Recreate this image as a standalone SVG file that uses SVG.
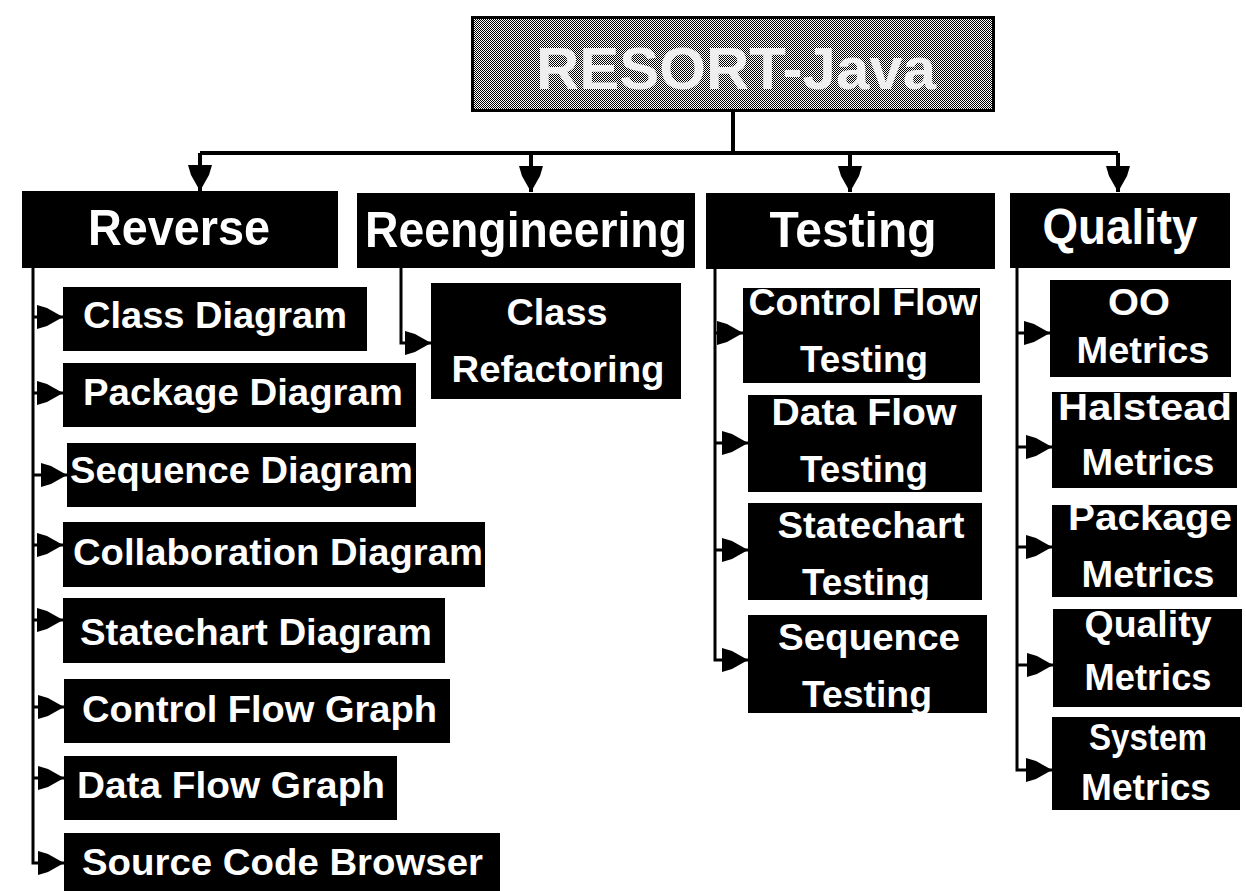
<svg xmlns="http://www.w3.org/2000/svg" width="1246" height="891" viewBox="0 0 1246 891">
<style>
.box{fill:#000}
.hdr{font-family:"Liberation Sans",Arial,sans-serif;font-weight:bold;font-size:50px;fill:#fff}
.lbl{font-family:"Liberation Sans",Arial,sans-serif;font-weight:bold;font-size:36px;fill:#fff}
.mid{text-anchor:middle}
.ln{fill:none;stroke:#000;stroke-width:3}
.bus{fill:none;stroke:#000;stroke-width:4}
</style>
<defs>
<pattern id="dither" width="2" height="2" patternUnits="userSpaceOnUse">
<rect width="2" height="2" fill="#fff"/>
<rect width="1" height="1" fill="#000"/>
<rect x="1" y="1" width="1" height="1" fill="#000"/>
</pattern>
<marker id="arr" markerUnits="userSpaceOnUse" markerWidth="26" markerHeight="24" viewBox="0 0 26 24" refX="26" refY="12" orient="auto">
<path d="M0 0 L10 3 L26 12 L10 21 L0 24 Z" fill="#000"/>
</marker>
</defs>
<rect width="1246" height="891" fill="#fff"/>

<g id="connectors">
<path class="bus" d="M733 111 V153"/>
<path class="bus" d="M200 153 H1118"/>
<path class="bus" d="M200 153 V191" marker-end="url(#arr)"/>
<path class="bus" d="M531 153 V192" marker-end="url(#arr)"/>
<path class="bus" d="M850 153 V192" marker-end="url(#arr)"/>
<path class="bus" d="M1118 153 V192" marker-end="url(#arr)"/>

<path class="ln" d="M33 268 V863 H64" marker-end="url(#arr)"/>
<path class="ln" d="M33 317 H63" marker-end="url(#arr)"/>
<path class="ln" d="M33 393 H63" marker-end="url(#arr)"/>
<path class="ln" d="M33 475 H67" marker-end="url(#arr)"/>
<path class="ln" d="M33 545 H63" marker-end="url(#arr)"/>
<path class="ln" d="M33 620 H63" marker-end="url(#arr)"/>
<path class="ln" d="M33 707 H64" marker-end="url(#arr)"/>
<path class="ln" d="M33 778 H64" marker-end="url(#arr)"/>

<path class="ln" d="M401 268 V343 H431" marker-end="url(#arr)"/>

<path class="ln" d="M715 269 V660 H748" marker-end="url(#arr)"/>
<path class="ln" d="M715 333 H743" marker-end="url(#arr)"/>
<path class="ln" d="M715 443 H748" marker-end="url(#arr)"/>
<path class="ln" d="M715 550 H748" marker-end="url(#arr)"/>

<path class="ln" d="M1017 268 V770 H1052" marker-end="url(#arr)"/>
<path class="ln" d="M1017 333 H1050" marker-end="url(#arr)"/>
<path class="ln" d="M1017 447 H1052" marker-end="url(#arr)"/>
<path class="ln" d="M1017 547 H1052" marker-end="url(#arr)"/>
<path class="ln" d="M1017 665 H1053" marker-end="url(#arr)"/>
</g>

<g id="root">
<rect x="472.5" y="17.5" width="521" height="93" fill="url(#dither)" stroke="#000" stroke-width="3"/>
<text x="736" y="89" class="mid" font-family="'Liberation Sans',Arial,sans-serif" font-weight="bold" font-size="60" fill="#eeeeee">RESORT-Java</text>
</g>

<g id="reverse">
<rect class="box" x="22" y="191" width="316" height="77"/>
<text class="hdr mid" x="179" y="245" textLength="182" lengthAdjust="spacingAndGlyphs">Reverse</text>
</g>
<g id="reengineering">
<rect class="box" x="357" y="193" width="338" height="75"/>
<text class="hdr mid" x="526" y="247" textLength="322" lengthAdjust="spacingAndGlyphs">Reengineering</text>
</g>
<g id="testing">
<rect class="box" x="706" y="193" width="289" height="76"/>
<text class="hdr mid" x="853" y="247" textLength="167" lengthAdjust="spacingAndGlyphs">Testing</text>
</g>
<g id="quality">
<rect class="box" x="1010" y="193" width="220" height="75"/>
<text class="hdr mid" x="1120" y="244" textLength="155" lengthAdjust="spacingAndGlyphs">Quality</text>
</g>

<g id="class-diagram">
<rect class="box" x="63" y="287" width="304" height="64"/>
<text class="lbl" x="83" y="328" textLength="264" lengthAdjust="spacingAndGlyphs">Class Diagram</text>
</g>
<g id="package-diagram">
<rect class="box" x="63" y="363" width="353" height="64"/>
<text class="lbl" x="83" y="405" textLength="320" lengthAdjust="spacingAndGlyphs">Package Diagram</text>
</g>
<g id="sequence-diagram">
<rect class="box" x="67" y="443" width="349" height="64"/>
<text class="lbl" x="70" y="483" textLength="343" lengthAdjust="spacingAndGlyphs">Sequence Diagram</text>
</g>
<g id="collaboration-diagram">
<rect class="box" x="63" y="522" width="422" height="65"/>
<text class="lbl" x="73" y="565" textLength="410" lengthAdjust="spacingAndGlyphs">Collaboration Diagram</text>
</g>
<g id="statechart-diagram">
<rect class="box" x="63" y="598" width="382" height="65"/>
<text class="lbl" x="80" y="645" textLength="352" lengthAdjust="spacingAndGlyphs">Statechart Diagram</text>
</g>
<g id="control-flow-graph">
<rect class="box" x="64" y="679" width="386" height="64"/>
<text class="lbl" x="82" y="722" textLength="355" lengthAdjust="spacingAndGlyphs">Control Flow Graph</text>
</g>
<g id="data-flow-graph">
<rect class="box" x="64" y="756" width="333" height="64"/>
<text class="lbl" x="77" y="798" textLength="308" lengthAdjust="spacingAndGlyphs">Data Flow Graph</text>
</g>
<g id="source-code-browser">
<rect class="box" x="64" y="833" width="436" height="58"/>
<text class="lbl" x="82" y="875" textLength="401" lengthAdjust="spacingAndGlyphs">Source Code Browser</text>
</g>

<g id="class-refactoring">
<rect class="box" x="431" y="283" width="250" height="116"/>
<text class="lbl mid" x="557" y="325" textLength="101" lengthAdjust="spacingAndGlyphs">Class</text>
<text class="lbl mid" x="558" y="382" textLength="213" lengthAdjust="spacingAndGlyphs">Refactoring</text>
</g>

<g id="control-flow-testing">
<rect class="box" x="743" y="288" width="237" height="95"/>
<text class="lbl mid" x="863" y="315" textLength="229" lengthAdjust="spacingAndGlyphs">Control Flow</text>
<text class="lbl mid" x="864" y="372" textLength="128" lengthAdjust="spacingAndGlyphs">Testing</text>
</g>
<g id="data-flow-testing">
<rect class="box" x="748" y="395" width="234" height="97"/>
<text class="lbl mid" x="864" y="425" textLength="185" lengthAdjust="spacingAndGlyphs">Data Flow</text>
<text class="lbl mid" x="864" y="482" textLength="128" lengthAdjust="spacingAndGlyphs">Testing</text>
</g>
<g id="statechart-testing">
<rect class="box" x="748" y="503" width="234" height="97"/>
<text class="lbl mid" x="871" y="538" textLength="187" lengthAdjust="spacingAndGlyphs">Statechart</text>
<text class="lbl mid" x="866" y="595" textLength="128" lengthAdjust="spacingAndGlyphs">Testing</text>
</g>
<g id="sequence-testing">
<rect class="box" x="748" y="615" width="239" height="98"/>
<text class="lbl mid" x="869" y="650" textLength="182" lengthAdjust="spacingAndGlyphs">Sequence</text>
<text class="lbl mid" x="867" y="707" textLength="130" lengthAdjust="spacingAndGlyphs">Testing</text>
</g>

<g id="oo-metrics">
<rect class="box" x="1050" y="280" width="181" height="97"/>
<text class="lbl mid" x="1139" y="315" textLength="62" lengthAdjust="spacingAndGlyphs">OO</text>
<text class="lbl mid" x="1143" y="363" textLength="133" lengthAdjust="spacingAndGlyphs">Metrics</text>
</g>
<g id="halstead-metrics">
<rect class="box" x="1052" y="392" width="185" height="96"/>
<text class="lbl mid" x="1145" y="420" textLength="174" lengthAdjust="spacingAndGlyphs">Halstead</text>
<text class="lbl mid" x="1148" y="475" textLength="133" lengthAdjust="spacingAndGlyphs">Metrics</text>
</g>
<g id="package-metrics">
<rect class="box" x="1052" y="505" width="185" height="92"/>
<text class="lbl mid" x="1150" y="530" textLength="164" lengthAdjust="spacingAndGlyphs">Package</text>
<text class="lbl mid" x="1148" y="587" textLength="133" lengthAdjust="spacingAndGlyphs">Metrics</text>
</g>
<g id="quality-metrics">
<rect class="box" x="1053" y="609" width="189" height="98"/>
<text class="lbl mid" x="1148" y="637" textLength="127" lengthAdjust="spacingAndGlyphs">Quality</text>
<text class="lbl mid" x="1148" y="690" textLength="127" lengthAdjust="spacingAndGlyphs">Metrics</text>
</g>
<g id="system-metrics">
<rect class="box" x="1052" y="717" width="188" height="93"/>
<text class="lbl mid" x="1148" y="750" textLength="118" lengthAdjust="spacingAndGlyphs">System</text>
<text class="lbl mid" x="1146" y="800" textLength="130" lengthAdjust="spacingAndGlyphs">Metrics</text>
</g>
</svg>
